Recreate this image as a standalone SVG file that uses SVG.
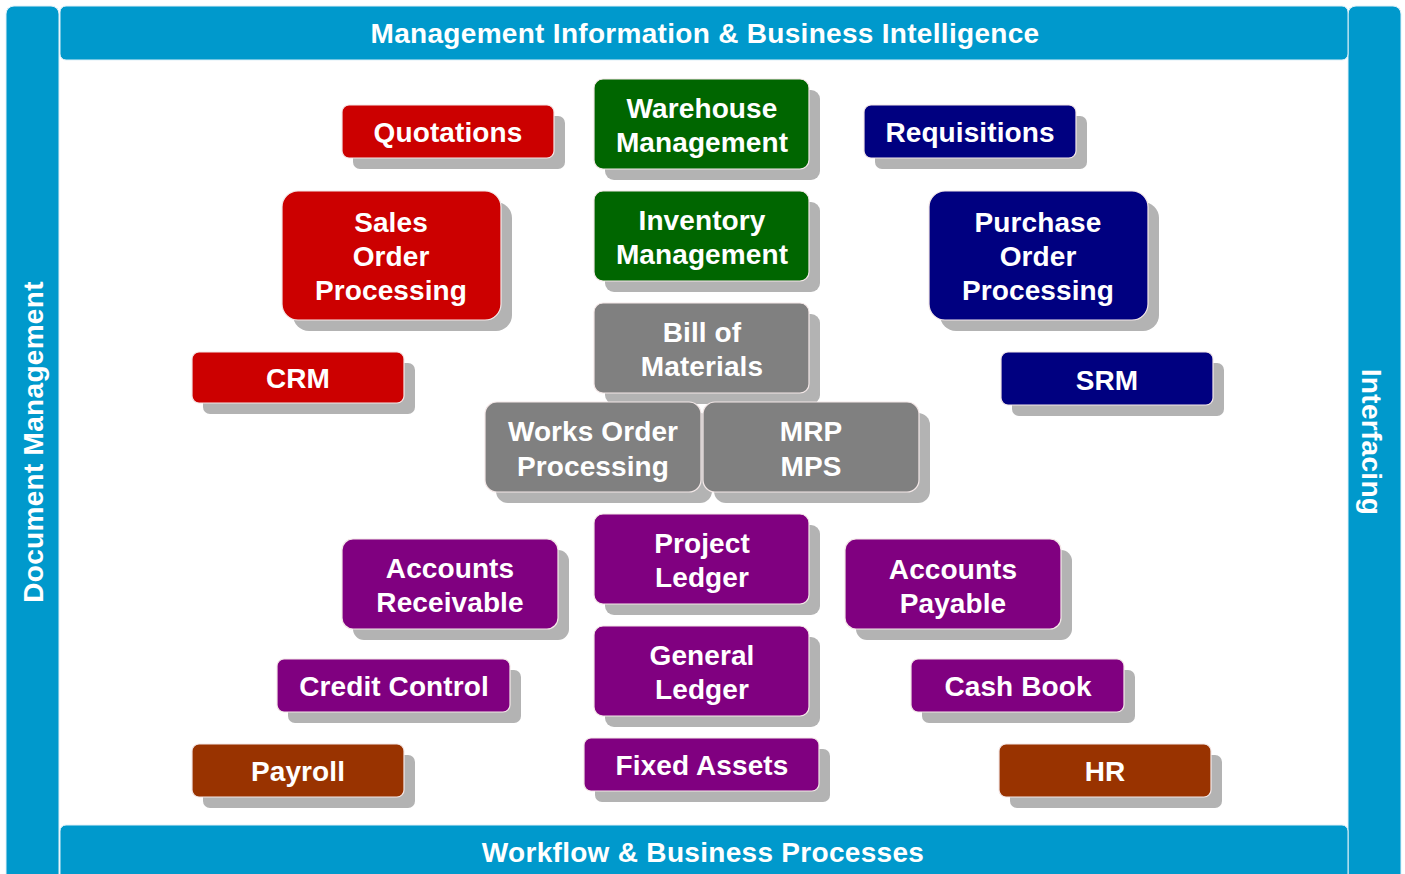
<svg xmlns="http://www.w3.org/2000/svg" width="1405" height="874" viewBox="0 0 1405 874">
<style>
.bar{fill:#0099cc;stroke:#e0f0f8;stroke-width:1}
.bt{font-family:"Liberation Sans",Arial,sans-serif;font-weight:bold;font-size:28px;fill:#fff;text-anchor:middle;letter-spacing:0.3px}
.sh{fill:#b3b3b3}
.n{stroke:#f4e8e8;stroke-width:1.2}
.t{font-family:"Liberation Sans",Arial,sans-serif;font-weight:bold;font-size:28px;fill:#fff;text-anchor:middle;letter-spacing:0.1px}
.red{fill:#cc0000}.grn{fill:#006600}.nav{fill:#000080}.gry{fill:#808080}.pur{fill:#800080}.brn{fill:#993300}
</style>
<rect width="1405" height="874" fill="#fff"/>
<g id="frame">
<rect class="bar" x="6" y="6" width="53" height="880" rx="8"/>
<rect class="bar" x="1348" y="6" width="53" height="880" rx="8"/>
<rect class="bar" x="60" y="6" width="1288" height="54" rx="6"/>
<rect class="bar" x="60" y="825" width="1288" height="60" rx="6"/>
<text class="bt" x="705" y="43">Management Information &amp; Business Intelligence</text>
<text class="bt" x="703" y="862">Workflow &amp; Business Processes</text>
<text class="bt" transform="translate(43,442) rotate(-90)">Document Management</text>
<text class="bt" transform="translate(1362,442) rotate(90)">Interfacing</text>
</g>
<g id="connectors"></g>
<g id="quotations"><rect class="sh" x="353" y="116" width="212" height="53" rx="7"/><rect class="n red" x="342" y="105" width="212" height="53" rx="7"/><text class="t" x="448" y="142">Quotations</text></g>
<g id="warehouse"><rect class="sh" x="605" y="90" width="215" height="90" rx="9"/><rect class="n grn" x="594" y="79" width="215" height="90" rx="9"/><text class="t" x="702" y="118">Warehouse</text><text class="t" x="702" y="152">Management</text></g>
<g id="requisitions"><rect class="sh" x="875" y="116" width="212" height="53" rx="7"/><rect class="n nav" x="864" y="105" width="212" height="53" rx="7"/><text class="t" x="970" y="142">Requisitions</text></g>
<g id="sales"><rect class="sh" x="293" y="202" width="219" height="129" rx="16"/><rect class="n red" x="282" y="191" width="219" height="129" rx="16"/><text class="t" x="391" y="232">Sales</text><text class="t" x="391" y="266">Order</text><text class="t" x="391" y="300">Processing</text></g>
<g id="inventory"><rect class="sh" x="605" y="202" width="215" height="90" rx="9"/><rect class="n grn" x="594" y="191" width="215" height="90" rx="9"/><text class="t" x="702" y="230">Inventory</text><text class="t" x="702" y="264">Management</text></g>
<g id="purchase"><rect class="sh" x="940" y="202" width="219" height="129" rx="16"/><rect class="n nav" x="929" y="191" width="219" height="129" rx="16"/><text class="t" x="1038" y="232">Purchase</text><text class="t" x="1038" y="266">Order</text><text class="t" x="1038" y="300">Processing</text></g>
<g id="bom"><rect class="sh" x="605" y="314" width="215" height="90" rx="9"/><rect class="n gry" x="594" y="303" width="215" height="90" rx="9"/><text class="t" x="702" y="342">Bill of</text><text class="t" x="702" y="376">Materials</text></g>
<g id="crm"><rect class="sh" x="203" y="363" width="212" height="51" rx="7"/><rect class="n red" x="192" y="352" width="212" height="51" rx="7"/><text class="t" x="298" y="388">CRM</text></g>
<g id="srm"><rect class="sh" x="1012" y="363" width="212" height="53" rx="7"/><rect class="n nav" x="1001" y="352" width="212" height="53" rx="7"/><text class="t" x="1107" y="390">SRM</text></g>
<g id="works"><rect class="sh" x="496" y="413" width="216" height="90" rx="12"/><rect class="n gry" x="485" y="402" width="216" height="90" rx="12"/><text class="t" x="593" y="441">Works Order</text><text class="t" x="593" y="476">Processing</text></g>
<g id="mrp"><rect class="sh" x="714" y="413" width="216" height="90" rx="12"/><rect class="n gry" x="703" y="402" width="216" height="90" rx="12"/><text class="t" x="811" y="441">MRP</text><text class="t" x="811" y="476">MPS</text></g>
<g id="ar"><rect class="sh" x="353" y="550" width="216" height="90" rx="11"/><rect class="n pur" x="342" y="539" width="216" height="90" rx="11"/><text class="t" x="450" y="578">Accounts</text><text class="t" x="450" y="612">Receivable</text></g>
<g id="project"><rect class="sh" x="605" y="525" width="215" height="90" rx="9"/><rect class="n pur" x="594" y="514" width="215" height="90" rx="9"/><text class="t" x="702" y="553">Project</text><text class="t" x="702" y="587">Ledger</text></g>
<g id="ap"><rect class="sh" x="856" y="550" width="216" height="90" rx="11"/><rect class="n pur" x="845" y="539" width="216" height="90" rx="11"/><text class="t" x="953" y="579">Accounts</text><text class="t" x="953" y="613">Payable</text></g>
<g id="credit"><rect class="sh" x="288" y="670" width="233" height="53" rx="7"/><rect class="n pur" x="277" y="659" width="233" height="53" rx="7"/><text class="t" x="394" y="696">Credit Control</text></g>
<g id="gl"><rect class="sh" x="605" y="637" width="215" height="90" rx="9"/><rect class="n pur" x="594" y="626" width="215" height="90" rx="9"/><text class="t" x="702" y="665">General</text><text class="t" x="702" y="699">Ledger</text></g>
<g id="cash"><rect class="sh" x="922" y="670" width="213" height="53" rx="7"/><rect class="n pur" x="911" y="659" width="213" height="53" rx="7"/><text class="t" x="1018" y="696">Cash Book</text></g>
<g id="payroll"><rect class="sh" x="203" y="755" width="212" height="53" rx="7"/><rect class="n brn" x="192" y="744" width="212" height="53" rx="7"/><text class="t" x="298" y="781">Payroll</text></g>
<g id="fixed"><rect class="sh" x="595" y="749" width="235" height="53" rx="7"/><rect class="n pur" x="584" y="738" width="235" height="53" rx="7"/><text class="t" x="702" y="775">Fixed Assets</text></g>
<g id="hr"><rect class="sh" x="1010" y="755" width="212" height="53" rx="7"/><rect class="n brn" x="999" y="744" width="212" height="53" rx="7"/><text class="t" x="1105" y="781">HR</text></g>
</svg>
